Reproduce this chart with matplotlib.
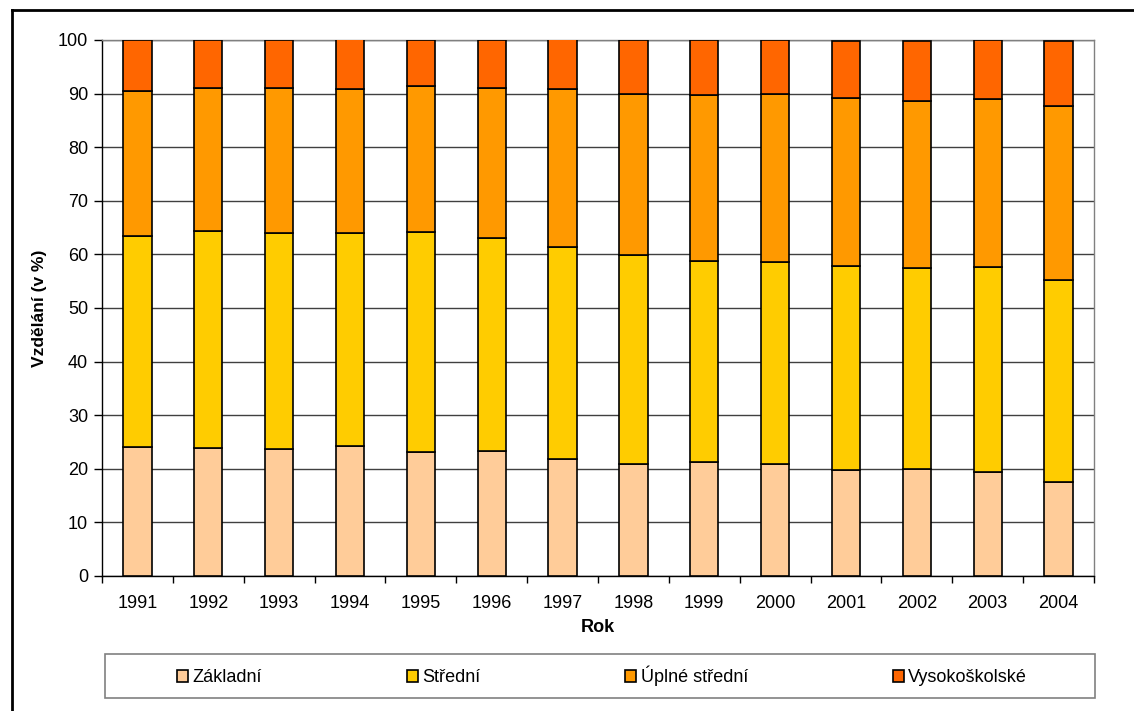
import matplotlib.pyplot as plt
import numpy as np
from matplotlib.lines import Line2D
from matplotlib.patches import Rectangle

plt.rcParams['font.family'] = ['Liberation Sans', 'DejaVu Sans']

# data (cumulative tops converted to shares, in %)
years = ['1991', '1992', '1993', '1994', '1995', '1996', '1997',
         '1998', '1999', '2000', '2001', '2002', '2003', '2004']
zakladni = [24.0, 23.9, 23.7, 24.2, 23.2, 23.4, 21.9,
            20.9, 21.3, 20.9, 19.8, 20.0, 19.4, 17.6]
stredni = [39.4, 40.4, 40.3, 39.7, 41.0, 39.6, 39.5,
           38.9, 37.5, 37.6, 38.1, 37.5, 38.3, 37.6]
uplne_stredni = [27.0, 26.8, 27.1, 26.9, 27.2, 28.1, 29.4,
                 30.2, 30.9, 31.4, 31.2, 31.2, 31.2, 32.4]
vysokoskolske = [9.6, 8.9, 8.9, 9.3, 8.6, 8.9, 9.3,
                 10.0, 10.3, 10.1, 10.8, 11.2, 11.1, 12.3]

series = [
    ('Základní', zakladni, '#FFCC99'),
    ('Střední', stredni, '#FFCC00'),
    ('Úplné střední', uplne_stredni, '#FF9900'),
    ('Vysokoškolské', vysokoskolske, '#FF6600'),
]

fig = plt.figure(figsize=(11.34, 7.11), dpi=100)
ax = fig.add_axes([102 / 1134, 135 / 711, 992 / 1134, 536 / 711])

x = np.arange(len(years))
bottom = np.zeros(len(years))
handles = []
for name, vals, color in series:
    bars = ax.bar(x, vals, width=0.4, bottom=bottom, color=color,
                  edgecolor='black', linewidth=1.2, label=name, zorder=3)
    bottom += np.array(vals)
    handles.append(bars)

ax.set_xlim(-0.5, len(years) - 0.5)
ax.set_ylim(0, 100)
ax.set_yticks(np.arange(0, 101, 10))
ax.yaxis.grid(True, color='#404040', linewidth=1.0, zorder=0)

ax.set_xticks(x)
ax.set_xticklabels(years, fontsize=13)
ax.set_xticks(np.arange(-0.5, len(years), 1), minor=True)
ax.tick_params(axis='x', which='major', length=0, pad=14)
ax.tick_params(axis='x', which='minor', length=5, width=1, direction='out')
ax.tick_params(axis='y', length=6, width=1, direction='out', labelsize=13, pad=4)

ax.spines['left'].set_color('black')
ax.spines['bottom'].set_color('black')
ax.spines['top'].set_color('#808080')
ax.spines['right'].set_color('#808080')
for sp in ax.spines.values():
    sp.set_linewidth(1.0)

ax.set_xlabel('Rok', fontsize=13, fontweight='bold', labelpad=5)
ax.set_ylabel('Vzdělání (v %)', fontsize=12.5, fontweight='bold', labelpad=8)

# legend frame and entries
fig.add_artist(Rectangle((105 / 1134, 13 / 711), 990 / 1134, 44 / 711,
                         transform=fig.transFigure, facecolor='white',
                         edgecolor='#808080', linewidth=1.2))
leg = fig.legend(handles=handles, loc='center', ncol=4, mode='expand',
                 bbox_to_anchor=(177 / 1134, 13 / 711, 850 / 1134, 44 / 711),
                 frameon=False, fontsize=13, handlelength=0.6, handleheight=0.6,
                 handletextpad=0.25, borderpad=0, borderaxespad=0)

# outer frame of the chart object
fig.add_artist(Line2D([12 / 1134, 12 / 1134], [0, 701 / 711],
                      transform=fig.transFigure, color='black', linewidth=2))
fig.add_artist(Line2D([12 / 1134, 1], [701 / 711, 701 / 711],
                      transform=fig.transFigure, color='black', linewidth=2))

fig.savefig('out.png', dpi=100)
